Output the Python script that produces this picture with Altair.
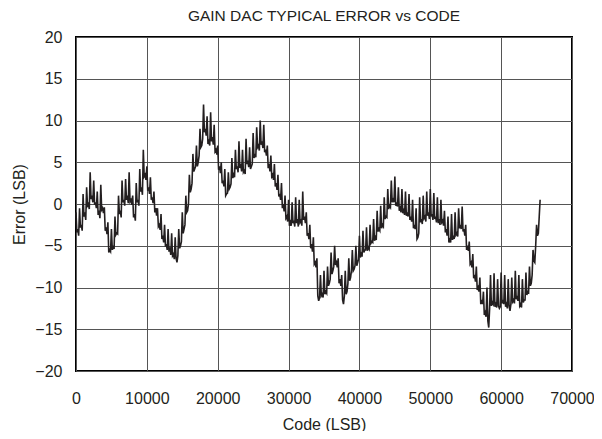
import altair as alt
import pandas as pd

code_step = 250
error_lsb = [
    -1.0, -3.0, -0.5, -2.5, 1.2, -1.0, 2.0, 0.0, 3.8, 1.0,
    2.8, 0.2, 1.5, -0.8, 2.3, -0.5, -0.4, -2.8, -2.2, -5.5,
    -3.0, -5.0, -1.5, -3.5, 1.0, -0.8, 2.8, 0.5, 3.0, 1.0,
    3.8, 0.5, 1.0, -1.2, 2.5, 0.5, 4.2, 2.0, 6.5, 3.5,
    4.5, 2.0, 3.2, 0.8, 1.5, -0.5, -0.5, -2.5, -1.2, -3.8,
    -2.5, -4.8, -3.0, -5.2, -3.5, -6.0, -4.0, -7.0, -3.0, -5.0,
    -1.0, -3.0, 1.0, -0.8, 3.5, 1.8, 6.0, 4.2, 7.0, 5.0,
    9.0, 7.0, 11.9, 9.0, 10.5, 7.5, 11.0, 8.0, 9.5, 6.5,
    7.0, 4.5, 5.0, 2.8, 4.2, 1.2, 3.8, 2.0, 5.5, 3.5,
    6.5, 4.5, 7.5, 4.8, 6.5, 4.0, 7.8, 5.2, 6.8, 4.5,
    8.5, 6.0, 9.2, 7.0, 10.0, 7.5, 9.5, 6.5, 7.0, 4.8,
    5.8, 3.5, 4.8, 2.5, 3.5, 1.2, 2.5, 0.0, 1.0, -1.5,
    0.5, -2.2, 0.2, -2.0, 0.8, -1.8, 0.5, -2.0, 1.5, -1.5,
    -1.0, -3.5, -2.5, -4.8, -4.0, -7.0, -6.5, -11.6, -8.5, -10.8,
    -8.0, -10.5, -7.5, -9.5, -5.8, -8.0, -5.0, -7.0, -6.5, -9.0,
    -8.5, -12.0, -8.0, -10.5, -6.5, -8.8, -5.5, -7.8, -5.0, -7.0,
    -3.8, -6.0, -3.2, -5.5, -2.8, -5.2, -2.5, -4.5, -1.8, -4.0,
    -0.8, -3.0, -0.2, -2.5, 0.8, -1.5, 1.8, -0.2, 2.8, 0.5,
    3.3, 0.2, 2.0, -0.5, 1.8, -0.8, 1.5, -1.0, 1.2, -1.5,
    0.5, -2.5, -0.5, -4.0, 0.8, -1.8, 1.0, -1.5, 1.5, -1.0,
    1.8, -1.2, 1.3, -1.5, 0.8, -1.8, 0.5, -2.0, -0.8, -3.0,
    -1.5, -4.3, -1.2, -3.8, -1.0, -3.5, -0.5, -2.5, -0.3, -3.0,
    -2.5, -5.0, -4.5, -7.0, -6.0, -8.5, -7.5, -10.0, -8.8, -11.5,
    -10.5, -13.0, -10.0, -14.8, -8.5, -11.8, -8.3, -12.0, -9.0, -12.5,
    -8.2, -11.5, -8.5, -12.0, -9.0, -12.8, -8.8, -11.5, -8.0, -11.0,
    -8.5, -12.0, -9.0, -11.5, -8.2, -10.5, -7.5, -9.5, -5.5, -7.0,
    -2.5, -3.5, 0.5,
]
# Lower edge of the noise band, read at the codes halfway between (125 + 250*i)
error_lsb_mid = [
    -3.4, -3.8, -2.8, -3.2, -1.5, -1.9, -0.2, -0.6, 0.6, 0.2,
    -0.1, -0.5, -1.3, -1.7, -0.7, -1.1, -3.2, -3.6, -5.8, -5.7,
    -5.5, -5.4, -3.7, -3.6, -1.2, -1.6, 0.2, -0.2, 0.5, 0.1,
    0.3, -0.1, -1.6, -2.0, 0.2, -0.2, 1.5, 1.1, 3.3, 2.9,
    1.6, 1.2, 0.5, 0.1, -1.0, -1.4, -2.7, -3.1, -4.2, -4.6,
    -5.1, -5.5, -5.7, -6.1, -6.2, -6.6, -6.5, -6.2, -5.3, -4.5,
    -3.5, -2.5, -1.0, 0.0, 1.4, 2.5, 3.9, 4.5, 4.5, 5.8,
    6.8, 7.8, 8.6, 8.2, 7.2, 7.0, 7.5, 7.1, 6.3, 5.9,
    4.1, 3.7, 2.5, 2.1, 1.0, 1.3, 1.8, 2.4, 3.1, 3.2,
    4.2, 3.8, 4.3, 3.9, 3.8, 3.6, 4.8, 4.4, 4.2, 4.8,
    5.5, 5.6, 6.8, 6.4, 7.1, 6.7, 6.2, 5.8, 4.3, 3.9,
    3.3, 2.9, 2.1, 1.7, 0.9, 0.5, -0.5, -0.9, -1.7, -2.1,
    -2.6, -2.6, -2.3, -2.7, -2.3, -2.7, -2.2, -2.6, -1.9, -2.3,
    -3.8, -4.2, -5.3, -5.7, -7.2, -7.6, -11.0, -11.2, -11.0, -11.2,
    -10.8, -10.7, -9.8, -9.0, -8.4, -7.5, -7.3, -7.6, -9.5, -9.8,
    -11.5, -11.0, -10.8, -9.5, -9.2, -8.0, -8.0, -7.4, -7.4, -6.6,
    -6.4, -6.3, -5.8, -5.5, -5.6, -5.4, -4.7, -4.6, -4.4, -4.3,
    -3.3, -3.2, -2.9, -2.7, -1.8, -1.6, -0.6, -0.4, 0.2, 0.2,
    -0.2, -0.3, -0.8, -1.0, -1.1, -1.3, -1.4, -1.5, -1.9, -2.1,
    -2.9, -3.0, -4.2, -3.5, -2.2, -2.4, -1.7, -2.1, -1.4, -1.8,
    -1.5, -1.9, -1.8, -2.2, -2.3, -2.5, -2.2, -2.6, -3.4, -3.8,
    -4.6, -4.6, -4.3, -4.2, -3.7, -3.9, -2.9, -3.0, -3.3, -3.8,
    -5.5, -5.6, -7.2, -7.6, -8.9, -9.3, -10.3, -10.5, -12.0, -12.0,
    -13.3, -13.5, -14.0, -12.5, -12.2, -12.0, -12.3, -12.4, -12.2, -12.3,
    -11.9, -12.0, -12.3, -12.5, -12.2, -12.0, -11.7, -11.9, -11.4, -11.6,
    -12.2, -12.4, -11.8, -11.5, -10.9, -10.6, -9.8, -8.5, -6.8, -5.0,
    -3.8, -1.5,
]
x_ticks = [0, 10000, 20000, 30000, 40000, 50000, 60000, 70000]
y_ticks = [-20, -15, -10, -5, 0, 5, 10, 15, 20]

codes = [i * code_step for i in range(len(error_lsb))]
mid_codes = [code_step // 2 + i * code_step for i in range(len(error_lsb_mid))]
df = (
    pd.DataFrame({"code": codes + mid_codes, "error": error_lsb + error_lsb_mid})
    .sort_values("code")
    .reset_index(drop=True)
)

FONT = "Liberation Sans"
INK = "#231f20"

chart = (
    alt.Chart(df)
    .mark_line(color=INK, strokeWidth=1.6)
    .encode(
        x=alt.X(
            "code:Q",
            scale=alt.Scale(domain=[0, 70000], nice=False),
            axis=alt.Axis(
                values=x_ticks,
                title="Code (LSB)",
                format="d",
                ticks=False,
                domain=False,
                labelFlush=False,
                labelPadding=19,
                titlePadding=10,
                gridColor="#555555",
                gridWidth=1,
            ),
        ),
        y=alt.Y(
            "error:Q",
            scale=alt.Scale(domain=[-20, 20], nice=False),
            axis=alt.Axis(
                values=y_ticks,
                title="Error (LSB)",
                ticks=False,
                domain=False,
                labelFlush=False,
                labelPadding=14,
                titlePadding=7,
                gridColor="#555555",
                gridWidth=1,
            ),
        ),
    )
    .properties(
        width=496,
        height=334,
        title=alt.TitleParams(
            "GAIN DAC TYPICAL ERROR vs CODE",
            font=FONT,
            fontSize=15.5,
            fontWeight="normal",
            color=INK,
            offset=5,
        ),
        autosize=alt.AutoSizeParams(type="none"),
        padding={"left": 68, "top": 29, "right": 22, "bottom": 60},
    )
    .configure_view(stroke="black", strokeWidth=2)
    .configure_axis(
        labelFont=FONT,
        titleFont=FONT,
        labelFontSize=16,
        titleFontSize=16,
        titleFontWeight="normal",
        labelColor=INK,
        titleColor=INK,
    )
)

chart.save("out.html", embed_options={"renderer": "svg", "actions": False})
